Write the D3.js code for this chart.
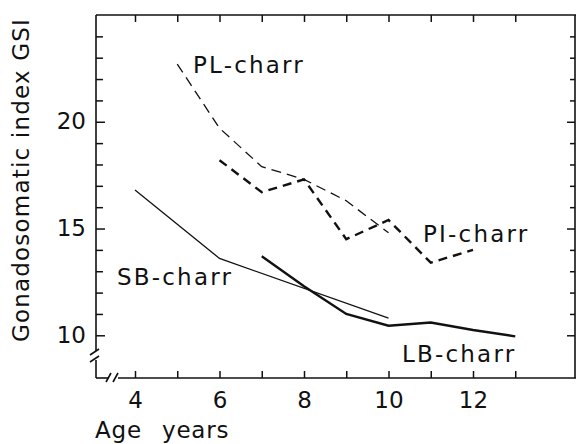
<!DOCTYPE html>
<html>
<head>
<meta charset="utf-8">
<script src="https://cdn.jsdelivr.net/npm/d3@7"></script>
<style>
  body { margin: 0; background: #fff; }
  text { font-family: "DejaVu Sans", sans-serif; fill: #111; }
</style>
</head>
<body>
<svg id="chart" width="576" height="444"></svg>
<script>
// data (age in years, GSI)
const plAge = [5, 6, 7, 8, 9, 10];
const plGsi = [22.7, 19.7, 17.9, 17.3, 16.3, 14.8];

const piAge = [6, 7, 8, 9, 10, 11, 12];
const piGsi = [18.2, 16.7, 17.3, 14.5, 15.4, 13.4, 14.0];

const sbAge = [4, 6, 10];
const sbGsi = [16.8, 13.6, 10.8];

const lbAge = [7, 8, 9, 10, 11, 12, 13];
const lbGsi = [13.7, 12.3, 11.0, 10.45, 10.6, 10.25, 9.95];

const xTicks = [4, 5, 6, 7, 8, 9, 10, 11, 12, 13];
const xLabels = [4, 6, 8, 10, 12];
const yTicks = [10, 11, 12, 13, 14, 15, 16, 17, 18, 19, 20, 21, 22, 23, 24];
const yLabels = [10, 15, 20];

const svg = d3.select("#chart");

const x = d3.scaleLinear().domain([3.077, 14.414]).range([96, 575]);
const y = d3.scaleLinear().domain([8, 25]).range([378, 15]);

const ink = "#111";

// frame lines (with axis break at bottom left)
const frame = svg.append("g").attr("stroke", ink).attr("stroke-width", 1.6).attr("fill", "none");
frame.append("line").attr("x1", 96).attr("x2", 576).attr("y1", y(25)).attr("y2", y(25));
frame.append("line").attr("x1", 575).attr("x2", 575).attr("y1", y(25)).attr("y2", y(8));
frame.append("line").attr("x1", 96).attr("x2", 96).attr("y1", y(25)).attr("y2", 351);
frame.append("line").attr("x1", 96).attr("x2", 96).attr("y1", 360).attr("y2", y(8));
frame.append("line").attr("x1", 96).attr("x2", 109).attr("y1", y(8)).attr("y2", y(8));
frame.append("line").attr("x1", 118).attr("x2", 576).attr("y1", y(8)).attr("y2", y(8));
// break marks
frame.append("line").attr("x1", 90).attr("y1", 355).attr("x2", 99).attr("y2", 349);
frame.append("line").attr("x1", 90).attr("y1", 362).attr("x2", 99).attr("y2", 356);
frame.append("line").attr("x1", 106).attr("y1", 382).attr("x2", 111).attr("y2", 373);
frame.append("line").attr("x1", 113).attr("y1", 382).attr("x2", 118).attr("y2", 373);

// bottom axis, ticks pointing inward
const axBottom = svg.append("g")
  .attr("transform", "translate(0," + y(8) + ")")
  .call(d3.axisBottom(x).tickValues(xTicks).tickSize(-7).tickPadding(13)
    .tickFormat(d => xLabels.includes(d) ? d : ""));
// top axis
const axTop = svg.append("g")
  .attr("transform", "translate(0," + y(25) + ")")
  .call(d3.axisTop(x).tickValues(xTicks).tickSize(-7).tickFormat(""));
// left axis
const axLeft = svg.append("g")
  .attr("transform", "translate(96,0)")
  .call(d3.axisLeft(y).tickValues(yTicks).tickSize(-7).tickPadding(10)
    .tickFormat(d => yLabels.includes(d) ? d : ""));
// right axis
const axRight = svg.append("g")
  .attr("transform", "translate(575,0)")
  .call(d3.axisRight(y).tickValues(yTicks).tickSize(-5).tickFormat(""));

[axBottom, axTop, axLeft, axRight].forEach(g => {
  g.select(".domain").remove();
  g.selectAll(".tick line").attr("stroke", ink).attr("stroke-width", 1.5);
  g.selectAll(".tick text").attr("font-size", 23).attr("font-family", "DejaVu Sans").attr("fill", ink);
});
axLeft.selectAll(".tick line").filter(d => yLabels.includes(d)).attr("x2", 9);
axRight.selectAll(".tick line").filter(d => yLabels.includes(d)).attr("x2", -8);
axLeft.selectAll(".tick text").attr("dy", "0.3em");
axBottom.selectAll(".tick text").attr("dy", "0.76em");

// series
const line = d3.line().x(d => x(d[0])).y(d => y(d[1]));
const zip = (a, b) => a.map((v, i) => [v, b[i]]);

svg.append("path").datum(zip(plAge, plGsi)).attr("d", line)
  .attr("fill", "none").attr("stroke", ink).attr("stroke-width", 1.3).attr("stroke-dasharray", "10,6");
svg.append("path").datum(zip(piAge, piGsi)).attr("d", line)
  .attr("fill", "none").attr("stroke", ink).attr("stroke-width", 2.4).attr("stroke-dasharray", "9,6");
svg.append("path").datum(zip(sbAge, sbGsi)).attr("d", line)
  .attr("fill", "none").attr("stroke", ink).attr("stroke-width", 1.3);
svg.append("path").datum(zip(lbAge, lbGsi)).attr("d", line)
  .attr("fill", "none").attr("stroke", ink).attr("stroke-width", 2.4);

// series labels
const labels = [
  { t: "PL-charr", x: 193, y: 73 },
  { t: "PI-charr", x: 423, y: 242 },
  { t: "SB-charr", x: 117, y: 285 },
  { t: "LB-charr", x: 402, y: 362 }
];
svg.selectAll("text.lab").data(labels).join("text")
  .attr("class", "lab")
  .attr("x", d => d.x).attr("y", d => d.y)
  .attr("font-size", 23).attr("letter-spacing", 2.2)
  .text(d => d.t);

// axis titles
svg.append("text")
  .attr("x", 95).attr("y", 438)
  .attr("font-size", 23).attr("letter-spacing", 0.8).attr("word-spacing", 12)
  .text("Age years");

svg.append("text")
  .attr("transform", "translate(29,180) rotate(-90)")
  .attr("text-anchor", "middle")
  .attr("font-size", 23).attr("letter-spacing", 1.2)
  .text("Gonadosomatic index GSI");
</script>
</body>
</html>
